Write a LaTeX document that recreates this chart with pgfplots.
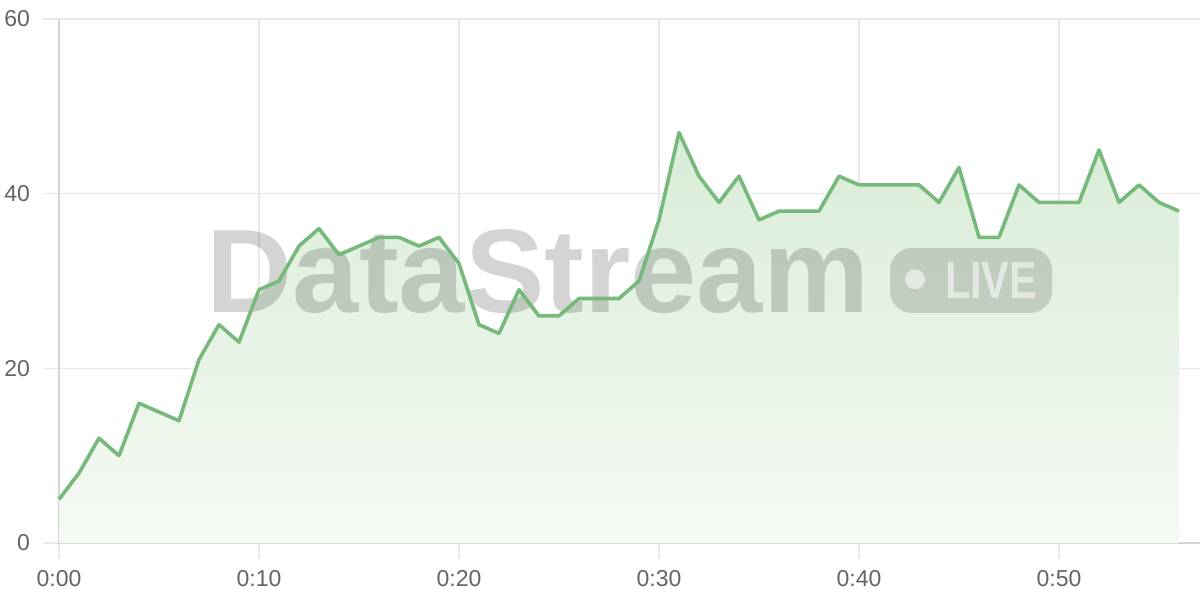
\documentclass[border=0pt]{standalone}
\usepackage{fontspec}
\setmainfont{Liberation Sans}
\usepackage{graphicx}
\usepackage{pgfplots}
\pgfplotsset{compat=1.18}
\usepackage{pgfplotstable}

\definecolor{linegreen}{RGB}{118,185,122}
\definecolor{filltop}{RGB}{216,236,214}
\definecolor{fillbot}{RGB}{246,250,245}
\definecolor{gridgray}{RGB}{232,232,232}
\definecolor{axisgray}{RGB}{212,212,212}
\definecolor{labelgray}{RGB}{100,100,100}

\pgfplotstableread{
t v
0 5
1 8
2 12
3 10
4 16
5 15
6 14
7 21
8 25
9 23
10 29
11 30
12 34
13 36
14 33
15 34
16 35
17 35
18 34
19 35
20 32
21 25
22 24
23 29
24 26
25 26
26 28
27 28
28 28
29 30
30 37
31 47
32 42
33 39
34 42
35 37
36 38
37 38
38 38
39 42
40 41
41 41
42 41
43 41
44 39
45 43
46 35
47 35
48 41
49 39
50 39
51 39
52 45
53 39
54 41
55 39
56 38
}\viewers

\begin{document}
\begin{tikzpicture}
\begin{axis}[
    at={(0,0)}, anchor=south west,
    scale only axis,
    width=570.5pt, height=262pt,
    xmin=0, xmax=57.05,
    ymin=0, ymax=60,
    xtick={0,10,20,30,40,50},
    xticklabels={0:00,0:10,0:20,0:30,0:40,0:50},
    ytick={0,20,40,60},
    grid=major,
    major grid style={gridgray, line width=0.6pt},
    axis x line*=bottom,
    axis y line*=left,
    axis line style={axisgray, line width=0.8pt, -},
    tick align=outside,
    major tick length=8pt,
    tick style={gridgray, line width=0.6pt},
    /pgf/number format/assume math mode=true,
    ticklabel style={font=\fontsize{11.5}{13}\selectfont, text=labelgray},
    yticklabel style={xshift=-3pt},
    xticklabel style={yshift=-2pt},
    clip=false,
]
\addplot[draw=none, top color=filltop, bottom color=fillbot] table[x=t, y=v] {\viewers} \closedcycle;
\node[text=black, opacity=0.17, inner sep=0pt] at (axis cs:23.95,31.1)
    {\resizebox{331pt}{41.5pt}{\bfseries DataStream}};
\node[fill=black, fill opacity=0.15, rounded corners=11pt, minimum width=81pt, minimum height=32.5pt, inner sep=0pt] at (axis cs:45.6,30.06) {};
\fill[white, opacity=0.55] (axis cs:42.8,30.2) circle (5pt);
\node[text=white, opacity=0.55, inner sep=0pt] at (axis cs:46.6,30.1)
    {\resizebox{46pt}{18pt}{\bfseries LIVE}};
\addplot[linegreen, line width=1.8pt, line join=round] table[x=t, y=v] {\viewers};
\end{axis}
\pgfresetboundingbox
\path[use as bounding box] (-29.5pt,-28.5pt) rectangle (570.5pt,271.5pt);
\end{tikzpicture}
\end{document}
